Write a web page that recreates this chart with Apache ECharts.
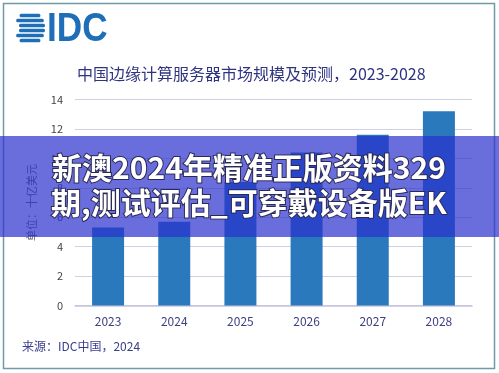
<!DOCTYPE html>
<html>
<head>
<meta charset="utf-8">
<script src="https://cdn.jsdelivr.net/npm/echarts@6/dist/echarts.min.js"></script>
<style>
html,body{margin:0;padding:0;background:#fff;}
#c{width:499px;height:373px;}
</style>
</head>
<body>
<div id="c"></div>
<script>
var categories = ['2023', '2024', '2025', '2026', '2027', '2028'];
var values = [5.3, 5.7, 8.4, 10.4, 11.6, 13.2];
var yTicks = { min: 0, max: 14, interval: 2 };
var titleText = '中国边缘计算服务器市场规模及预测，2023-2028';
var yName = '单位：十亿美元';
var sourceText = '来源：IDC中国，2024';
var bannerLines = ['新澳2024年精准正版资料329', '期,测试评估_可穿戴设备版EK'];

var FONT = '"Noto Sans CJK SC", "Noto Sans", sans-serif';
var chart = echarts.init(document.getElementById('c'), null, { renderer: 'canvas' });

// globe stripes of the logo
var cx = 30, cy = 28, r = 15;
var stripes = [];
var stripeYs = [-12.5, -7.5, -2.5, 2.5, 7.5, 12.5];
stripeYs.forEach(function (dy, i) {
  var h = 3.4;
  var yTop = dy - h / 2, yBot = dy + h / 2;
  var yy = Math.min(Math.abs(yTop), Math.abs(yBot));
  var half = Math.sqrt(Math.max(0, r * r - yy * yy));
  var left = cx - half + ((i === 2 || i === 3) ? 4 : 0);
  stripes.push({
    type: 'rect', z: 50,
    shape: { x: left, y: cy + yTop, width: cx + half - left, height: h, r: 1.5 },
    style: { fill: '#1f6fb8' }
  });
});

chart.setOption({
  animation: false,
  textStyle: { fontFamily: FONT },
  grid: { left: 75, right: 27, top: 99.5, bottom: 67.5 },
  title: {
    text: titleText, left: 72, top: 61,
    textStyle: { fontSize: 16, fontWeight: 'normal', color: '#2f3480', fontFamily: FONT }
  },
  xAxis: {
    type: 'category', data: categories,
    axisLine: { lineStyle: { color: '#c4c4dc', width: 1.5 } },
    axisTick: { show: false },
    axisLabel: { color: '#3d4180', fontSize: 12, margin: 10, fontFamily: FONT }
  },
  yAxis: {
    type: 'value', min: yTicks.min, max: yTicks.max, interval: yTicks.interval,
    name: yName, nameLocation: 'middle', nameGap: 38, nameRotate: 90,
    nameTextStyle: { color: '#666', fontSize: 11, fontFamily: FONT },
    axisLine: { show: false }, axisTick: { show: false },
    axisLabel: { color: '#444', fontSize: 11, margin: 12, fontFamily: FONT },
    splitLine: { lineStyle: { color: '#cfcfe6', width: 1 } }
  },
  series: [{
    type: 'bar', data: values, barWidth: 32,
    itemStyle: { color: '#2a79bd' }
  }],
  graphic: [
    {
      type: 'rect', z: 1, silent: true,
      shape: { x: 3.5, y: 3.5, width: 491, height: 365 },
      style: { fill: null, stroke: '#6f9aa8', lineWidth: 1.5 }
    },
    {
      type: 'text', z: 50, left: 22, top: 340,
      style: { text: sourceText, fill: '#3a3e8c', font: '12px ' + FONT }
    },
    {
      type: 'text', z: 50, x: 47, y: 10,
      scaleX: 0.88,
      style: { text: 'IDC', fill: '#1f6fb8', font: 'bold 40px "Liberation Sans", Arial, sans-serif', textVerticalAlign: 'top' }
    }
  ].concat(stripes).concat([
    {
      type: 'rect', z: 200, silent: true,
      shape: { x: 0, y: 136, width: 499, height: 101 },
      style: { fill: 'rgba(43,49,205,0.70)' }
    },
    {
      type: 'text', z: 201, x: 249, y: 168,
      style: {
        text: bannerLines[0], fill: '#fff', textAlign: 'center', textVerticalAlign: 'middle',
        font: 'bold 30px ' + FONT, stroke: '#2a2a55', lineWidth: 2
      }
    },
    {
      type: 'text', z: 201, x: 249, y: 203,
      style: {
        text: bannerLines[1], fill: '#fff', textAlign: 'center', textVerticalAlign: 'middle',
        font: 'bold 30px ' + FONT, stroke: '#2a2a55', lineWidth: 2
      }
    }
  ])
});
</script>
</body>
</html>
